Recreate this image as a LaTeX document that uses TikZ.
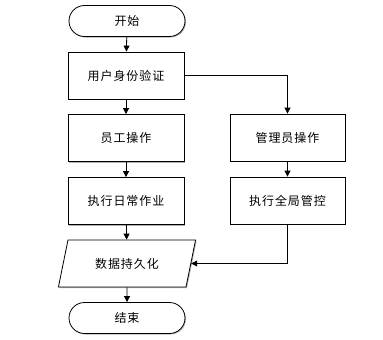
\documentclass[tikz,border=0pt]{standalone}
\usepackage{fontspec}
\newfontfamily\cjk[LetterSpace=8]{Noto Sans CJK SC}
\usetikzlibrary{arrows.meta,shapes.geometric,shadows}
\tikzset{
  flowbox/.style={
    draw=black, fill=white, line width=0.8pt,
    minimum width=116pt, minimum height=47pt, inner sep=0pt,
    font=\cjk\fontsize{12pt}{14pt}\selectfont,
    drop shadow={shadow xshift=1pt, shadow yshift=-1pt, fill=gray!60, opacity=1}
  },
  termbox/.style={
    flowbox, minimum height=31pt, rounded corners=15.5pt
  },
  iobox/.style={
    flowbox, trapezium, trapezium left angle=65, trapezium right angle=115,
    trapezium stretches=true, minimum width=138pt
  },
  flowline/.style={
    draw=black, line width=0.8pt, -{Triangle[length=6pt,width=6pt]}
  }
}
\begin{document}
\begin{tikzpicture}[x=1pt,y=-1pt]
\useasboundingbox (0,0) rectangle (383,340);
\node[termbox] (start) at (127,21) {开始};
\node[flowbox] (auth) at (126,75.5) {用户身份验证};
\node[flowbox] (staff) at (126,138) {员工操作};
\node[flowbox] (daily) at (126,201) {执行日常作业};
\node[iobox] (persist) at (127,263.5) {数据持久化};
\node[termbox] (finish) at (127,318) {结束};
\node[flowbox, minimum width=115pt] (admin) at (287.5,137.5) {管理员操作};
\node[flowbox, minimum width=115pt] (global) at (287.5,200.5) {执行全局管控};
\draw[flowline] (start) -- (auth);
\draw[flowline] (auth) -- (staff);
\draw[flowline] (staff) -- (daily);
\draw[flowline] (daily) -- (persist);
\draw[flowline] (persist) -- (finish);
\draw[flowline] (auth.east) -| (admin.north);
\draw[flowline] (admin) -- (global);
\draw[flowline] (global.south) |- (persist.east);
\end{tikzpicture}
\end{document}
